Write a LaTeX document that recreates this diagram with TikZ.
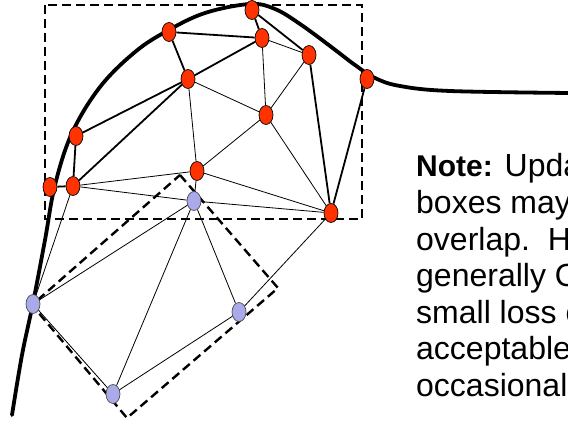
\documentclass[tikz,border=0pt]{standalone}
\usepackage{fontspec}
\setmainfont{Liberation Sans}
\usetikzlibrary{shapes.geometric}
\definecolor{rednode}{RGB}{255,51,0}
\definecolor{bluenode}{RGB}{170,170,235}
\tikzset{
  rnode/.style={ellipse, draw=black, line width=0.7pt, fill=rednode, minimum width=14pt, minimum height=19pt, inner sep=0pt},
  bnode/.style={ellipse, draw=black!70, line width=0.7pt, fill=bluenode, minimum width=14pt, minimum height=19pt, inner sep=0pt},
  thickedge/.style={line width=1.8pt},
  thinedge/.style={line width=0.8pt},
  boxline/.style={line width=2.4pt, dash pattern=on 9pt off 5pt},
  bigcurve/.style={line width=3.8pt, line cap=round},
  notetext/.style={anchor=base west, inner sep=0pt, font=\fontsize{32}{36}\selectfont}
}
\begin{document}
\begin{tikzpicture}[x=1pt,y=-1pt]
\useasboundingbox (0,0) rectangle (568,425);
\clip (0,0) rectangle (568,425);
% dashed boxes
\draw[boxline] (45,5) rectangle (362,219);
\coordinate (qT) at (180,175);
\coordinate (qR) at (278,288);
\coordinate (qB) at (127,418);
\coordinate (qL) at (32,305);
\draw[boxline] (qT) -- (qR) -- (qB) -- (qL) -- cycle;
% curve
\draw[bigcurve] plot[smooth, tension=0.6] coordinates {(12,415) (22,355) (33,303) (45,240) (55,185) (72,133) (100,87) (135,52) (167,31) (205,13) (250,4) (275,9) (300,24) (330,46) (355,65) (375,78) (400,86) (450,91) (570,93)};
% nodes
\node[rnode] (r1) at (252,10) {};
\node[rnode] (r2) at (169,32) {};
\node[rnode] (r3) at (262,38) {};
\node[rnode] (r4) at (188,79) {};
\node[rnode] (r5) at (266,115) {};
\node[rnode] (r6) at (76,136) {};
\node[rnode] (r7) at (50,187) {};
\node[rnode] (r8) at (73,186) {};
\node[rnode] (r9) at (197,171) {};
\node[rnode] (r10) at (309,55) {};
\node[rnode] (r11) at (367,79) {};
\node[rnode] (r12) at (331,213) {};
\node[bnode] (b1) at (194,201) {};
\node[bnode] (b2) at (33,304) {};
\node[bnode] (b3) at (239,312) {};
\node[bnode] (b4) at (113,394) {};
% edges
\draw[thickedge] (r2) -- (r3);
\draw[thickedge] (r2) -- (r4);
\draw[thickedge] (r4) -- (r3);
\draw[thickedge] (r4) -- (r6);
\draw[thickedge] (r4) -- (r8);
\draw[thickedge] (r6) -- (r8);
\draw[thickedge] (r7) -- (r8);
\draw[thickedge] (r1) -- (r3);
\draw[thickedge] (r1) -- (r10);
\draw[thickedge] (r10) -- (r12);
\draw[thickedge] (r11) -- (r12);
\draw[thinedge] (r4) -- (r5);
\draw[thinedge] (r4) -- (r9);
\draw[thinedge] (r3) -- (r5);
\draw[thinedge] (r5) -- (r9);
\draw[thinedge] (r5) -- (r10);
\draw[thinedge] (r3) -- (r10);
\draw[thinedge] (r5) -- (r12);
\draw[thinedge] (r9) -- (r12);
\draw[thinedge] (r8) -- (r9);
\draw[thinedge] (r8) -- (b1);
\draw[thinedge] (b1) -- (r12);
\draw[thinedge] (r9) -- (b1);
\draw[thinedge] (b1) -- (b2);
\draw[thinedge] (b1) -- (b3);
\draw[thinedge] (b1) -- (b4);
\draw[thinedge] (b2) -- (b4);
\draw[thinedge] (b4) -- (b3);
\draw[thinedge] (r8) -- (b2);
\draw[thinedge] (b3) -- (r12);
% note text
\node[notetext] (t1) at (416,177) {{\fontsize{30}{36}\selectfont\textbf{Note:}} Update};
\node[notetext] (t2) at (416,213.5) {boxes may};
\node[notetext] (t3) at (416,250) {overlap.\ \ However,};
\node[notetext] (t4) at (416,286.5) {generally OK};
\node[notetext] (t5) at (416,323) {small loss of};
\node[notetext] (t6) at (416,359.5) {acceptable};
\node[notetext] (t7) at (416,396) {occasional};
\end{tikzpicture}
\end{document}
